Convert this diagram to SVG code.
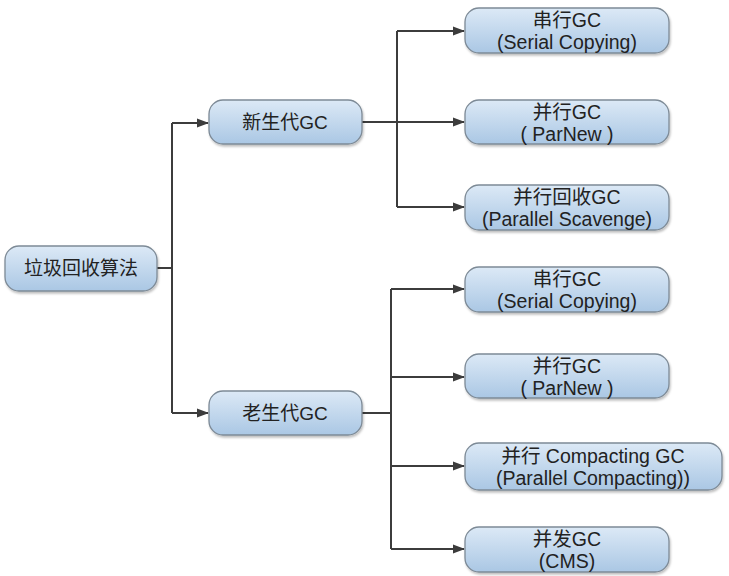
<svg xmlns="http://www.w3.org/2000/svg" width="729" height="576" viewBox="0 0 729 576">
<defs>
<linearGradient id="g" x1="0" y1="0" x2="0" y2="1">
<stop offset="0" stop-color="#dce9f6"/>
<stop offset="1" stop-color="#aac7e4"/>
</linearGradient>
<marker id="ah" markerWidth="12" markerHeight="12" refX="11" refY="6" orient="auto" markerUnits="userSpaceOnUse">
<path d="M0,1.5 L12,6 L0,10.5 Z" fill="#3c3c3c"/>
</marker>
<filter id="sh" x="-10%" y="-10%" width="120%" height="140%">
<feDropShadow dx="1" dy="2" stdDeviation="1.2" flood-color="#000" flood-opacity="0.25"/>
</filter>
</defs>
<style>
.n rect{fill:url(#g);stroke:#7d8a96;stroke-width:1.3;filter:url(#sh)}
.n text{font-family:"Liberation Sans","Noto Sans CJK SC",sans-serif;font-size:19.5px;fill:#222;text-anchor:middle}
.c path{fill:none;stroke:#3c3c3c;stroke-width:2}
.c path.a{marker-end:url(#ah)}
</style>
<rect width="729" height="576" fill="#fff"/>
<g class="c" id="connectors">
<path d="M157,268 H172"/>
<path d="M172,123 V413"/>
<path class="a" d="M172,123 H208"/>
<path class="a" d="M172,413 H208"/>
<path d="M362,122 H397"/>
<path d="M397,31 V207"/>
<path class="a" d="M397,31 H464"/>
<path class="a" d="M397,122 H464"/>
<path class="a" d="M397,207 H464"/>
<path d="M362,413 H391"/>
<path d="M391,289 V549"/>
<path class="a" d="M391,289 H464"/>
<path class="a" d="M391,377 H464"/>
<path class="a" d="M391,466 H464"/>
<path class="a" d="M391,549 H464"/>
</g>
<g class="n" id="root"><rect x="5" y="246" width="152" height="45" rx="14"/><text x="81" y="275" style="font-size:19px">垃圾回收算法</text></g>
<g class="n" id="young"><rect x="209" y="100" width="153" height="44" rx="14"/><text x="285" y="129" style="font-size:19px">新生代GC</text></g>
<g class="n" id="old"><rect x="209" y="391" width="153" height="44" rx="14"/><text x="285" y="420" style="font-size:19px">老生代GC</text></g>
<g class="n" id="y1"><rect x="465" y="8" width="204" height="45" rx="14"/><text x="567" y="27">串行GC</text><text x="567" y="49">(Serial Copying)</text></g>
<g class="n" id="y2"><rect x="465" y="100" width="204" height="44" rx="14"/><text x="567" y="119">并行GC</text><text x="567" y="141">( ParNew )</text></g>
<g class="n" id="y3"><rect x="465" y="185" width="204" height="45" rx="14"/><text x="567" y="204">并行回收GC</text><text x="567" y="226">(Parallel Scavenge)</text></g>
<g class="n" id="o1"><rect x="465" y="267" width="204" height="45" rx="14"/><text x="567" y="286">串行GC</text><text x="567" y="308">(Serial Copying)</text></g>
<g class="n" id="o2"><rect x="465" y="354" width="204" height="44" rx="14"/><text x="567" y="373">并行GC</text><text x="567" y="395">( ParNew )</text></g>
<g class="n" id="o3"><rect x="465" y="443" width="257" height="47" rx="14"/><text x="593" y="463">并行 Compacting GC</text><text x="593" y="485">(Parallel Compacting))</text></g>
<g class="n" id="o4"><rect x="465" y="527" width="204" height="45" rx="14"/><text x="567" y="546">并发GC</text><text x="567" y="568">(CMS)</text></g>
</svg>
